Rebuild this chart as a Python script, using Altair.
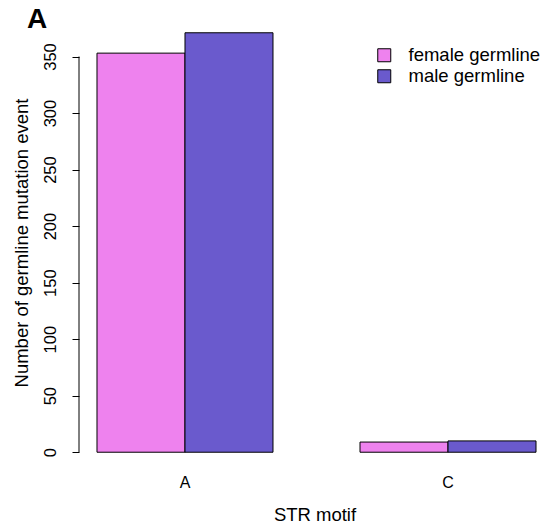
import altair as alt
import pandas as pd

motifs = ["A", "C"]
female = [353, 9]
male = [371, 10]
groups = ["female germline", "male germline"]
colors = ["#EE82EE", "#6A5ACD"]
y_ticks = [0, 50, 100, 150, 200, 250, 300, 350]
panel_label = ["A"]

rows = []
for i, m in enumerate(motifs):
    rows.append({"motif": m, "group": groups[0], "count": female[i]})
    rows.append({"motif": m, "group": groups[1], "count": male[i]})
df = pd.DataFrame(rows)

ymax = max(female + male)
ypad = 0.04 * ymax
ydom = [-ypad, ymax + ypad]

FONT = "Liberation Sans"

x_enc = alt.X(
    "motif:N",
    sort=motifs,
    scale=alt.Scale(paddingInner=0.3308, paddingOuter=0.0608, align=0.5625),
    axis=alt.Axis(
        title="STR motif", domain=False, ticks=False, tickSize=0, labelAngle=0,
        labelFontSize=16, labelPadding=5, labelColor="black", labelFont=FONT,
        titleFontSize=18.5, titleFontWeight="normal", titleFont=FONT, titleColor="black",
        titleBaseline="alphabetic", titleY=51,
    ),
)

bars = alt.Chart(df).mark_bar(stroke="black", strokeWidth=1).encode(
    x=x_enc,
    xOffset=alt.XOffset("group:N", sort=groups, scale=alt.Scale(paddingInner=0, paddingOuter=0)),
    y=alt.Y(
        "count:Q",
        scale=alt.Scale(domain=ydom, nice=False, zero=False),
        axis=alt.Axis(
            title="Number of germline mutation event", values=y_ticks, domain=False,
            tickSize=7, tickColor="black", tickWidth=1, grid=False,
            labelAngle=270, labelAlign="center", labelBaseline="alphabetic", labelPadding=17,
            labelFontSize=16.5, labelColor="black", labelFont=FONT,
            titleFontSize=18.5, titleFontWeight="normal", titleFont=FONT, titleColor="black",
            titleAngle=270, titleAlign="center", titleBaseline="alphabetic",
            titleX=-52, titleY=226.5,
        ),
    ),
    y2=alt.datum(0),
    color=alt.Color(
        "group:N", sort=groups,
        scale=alt.Scale(domain=groups, range=colors),
        legend=alt.Legend(
            title=None, orient="none", legendX=296, legendY=30, padding=0,
            symbolType="square", symbolSize=169, symbolStrokeColor="black", symbolStrokeWidth=1,
            symbolOpacity=1, labelFontSize=18.5, labelFont=FONT, labelColor="black",
            labelOffset=15, rowPadding=2,
        ),
    ),
)

axis_line = alt.Chart(pd.DataFrame({"lo": [y_ticks[0]], "hi": [y_ticks[-1]]})).mark_rule(
    color="black", strokeWidth=1
).encode(
    x=alt.value(0),
    y=alt.Y("lo:Q", scale=alt.Scale(domain=ydom, nice=False, zero=False)),
    y2="hi:Q",
)

label = alt.Chart(pd.DataFrame({"t": panel_label})).mark_text(
    fontSize=28, fontWeight="bold", font=FONT, color="black",
    align="left", baseline="alphabetic",
).encode(text="t:N", x=alt.value(-52), y=alt.value(12))

chart = alt.layer(bars, axis_line, label).properties(
    width=471,
    height=453,
    padding={"left": 79, "top": 16, "right": 0, "bottom": 60},
    autosize=alt.AutoSizeParams(type="none"),
).configure(background="white").configure_view(stroke=None)

chart.save("out.html", embed_options={"renderer": "svg", "actions": False})
